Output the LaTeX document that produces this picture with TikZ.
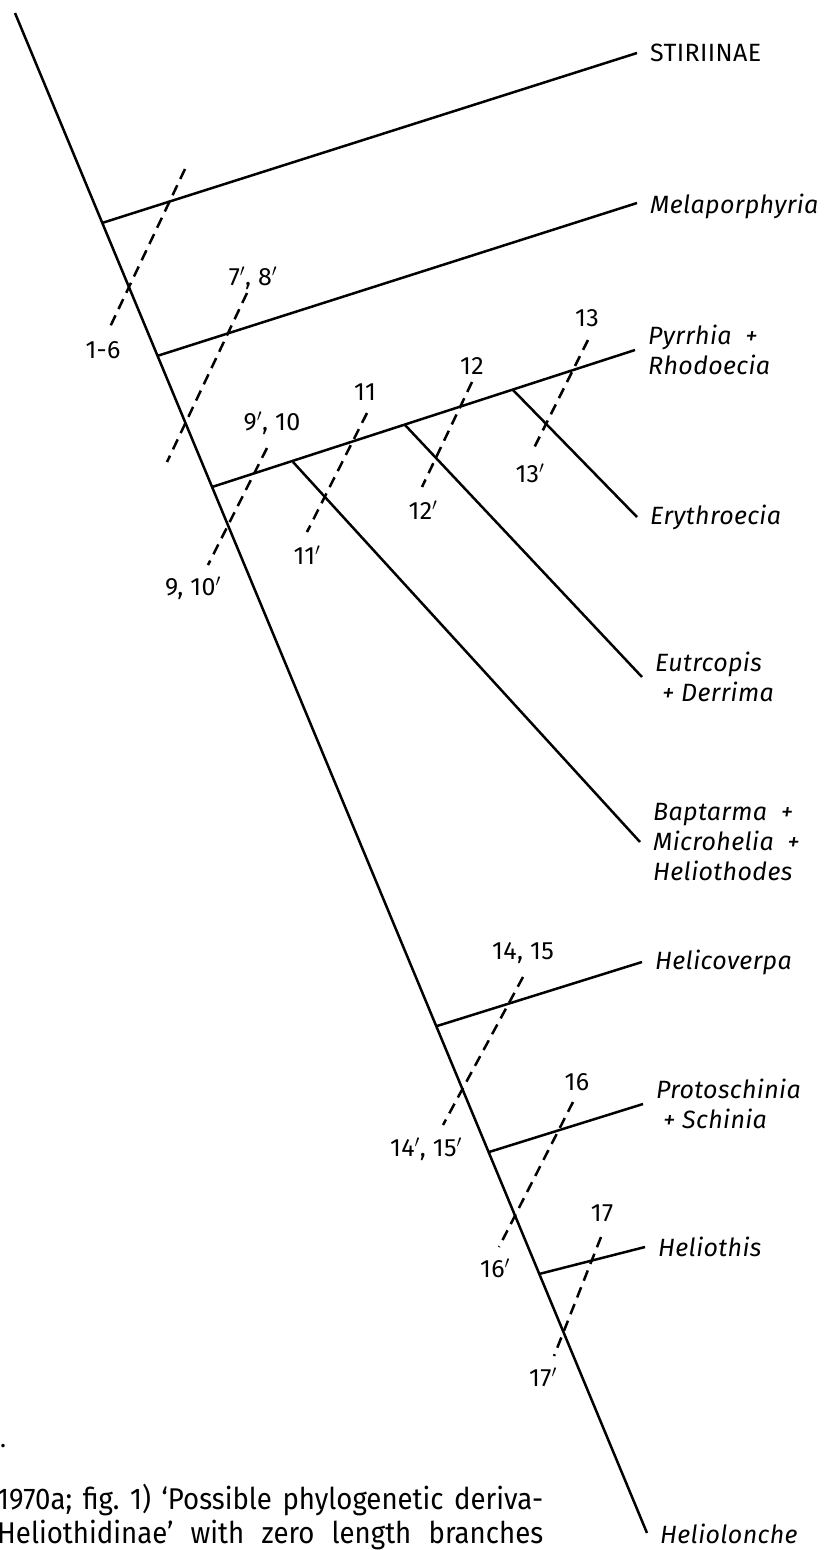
\documentclass[tikz,border=0pt]{standalone}
\usepackage{fontspec}
\setmainfont{Fira Sans}[LetterSpace=1.5]
\newfontfamily\capfont[FakeStretch=0.92]{Fira Sans}
\usetikzlibrary{positioning}

\begin{document}
\frenchspacing
\begin{tikzpicture}[x=1pt,y=-1pt,node distance=13pt,
  branch/.style={line width=2.5pt},
  trait/.style={line width=2.5pt,dash pattern=on 11pt off 7pt},
  taxon/.style={font=\fontsize{25}{30}\selectfont\itshape,inner sep=0pt,align=left},
  num/.style={font=\fontsize{25}{28}\selectfont,inner sep=0pt}]
  \useasboundingbox (0,0) rectangle (827,1550);
  % trunk
  \coordinate (root) at (15,13);
  \coordinate (base) at (647,1533);
  \coordinate (j1) at (102,223);
  \coordinate (j2) at (157,356);
  \coordinate (j3) at (212,487);
  \coordinate (j4) at (437,1026);
  \coordinate (j5) at (489,1152);
  \coordinate (j6) at (539,1274);
  \coordinate (k1) at (293,462);
  \coordinate (k2) at (405,425);
  \coordinate (k3) at (513,390);
  % tips
  \coordinate (t1) at (637,53);
  \coordinate (t2) at (637,203);
  \coordinate (t3) at (635,350);
  \coordinate (t4) at (637,517);
  \coordinate (t5) at (642,677);
  \coordinate (t6) at (640,842);
  \coordinate (t7) at (642,962);
  \coordinate (t8) at (643,1104);
  \coordinate (t9) at (645,1247);
  \draw[branch] (root) -- (base);
  \draw[branch] (j1) -- (t1);
  \draw[branch] (j2) -- (t2);
  \draw[branch] (j3) -- (t3);
  \draw[branch] (k3) -- (t4);
  \draw[branch] (k2) -- (t5);
  \draw[branch] (k1) -- (t6);
  \draw[branch] (j4) -- (t7);
  \draw[branch] (j5) -- (t8);
  \draw[branch] (j6) -- (t9);
  \node[taxon,right=of t1] (stir) {\upshape STIRIINAE};
  \node[taxon,right=of t2,yshift=-3pt] (mela) {Melaporphyria};
  \node[taxon,right=of t3] (pyrr) {Pyrrhia\ \ +\\Rhodoecia};
  \node[taxon,right=of t4] (eryt) {Erythroecia};
  \node[taxon,right=of t5] (eutr) {Eutrcopis\\\ + Derrima};
  \node[taxon,right=of t6] (bapt) {Baptarma\ \ +\\Microhelia\ \ +\\Heliothodes};
  \node[taxon,right=of t7] (helc) {Helicoverpa};
  \node[taxon,right=of t8] (prot) {Protoschinia\\\ + Schinia};
  \node[taxon,right=of t9] (helt) {Heliothis};
  \node[taxon,right=of base,yshift=-1pt] (hell) {Heliolonche};
  % characters
  \coordinate (c1a) at (185,169);  \coordinate (c1b) at (110,327);
  \coordinate (c2a) at (247,293);  \coordinate (c2b) at (167,462);
  \coordinate (c3a) at (267,448);  \coordinate (c3b) at (208,565);
  \coordinate (c4a) at (367,413);  \coordinate (c4b) at (307,532);
  \coordinate (c5a) at (472,382);  \coordinate (c5b) at (422,487);
  \coordinate (c6a) at (588,340);  \coordinate (c6b) at (532,452);
  \coordinate (c7a) at (523,977);  \coordinate (c7b) at (443,1125);
  \coordinate (c8a) at (573,1102); \coordinate (c8b) at (499,1247);
  \coordinate (c9a) at (601,1237); \coordinate (c9b) at (554,1356);
  \foreach \i in {1,...,9}
    \draw[trait] (c\i a) -- (c\i b);
  \node[num] (n1b) at (103,350) {1-6};
  \node[num] (n2a) at (253,278) {7$'$, 8$'$};
  \node[num] (n3a) at (272,423) {9$'$, 10};
  \node[num] (n3b) at (193,588) {9, 10$'$};
  \node[num] (n4a) at (365,392) {11};
  \node[num] (n4b) at (307,555) {11$'$};
  \node[num] (n5a) at (472,366) {12};
  \node[num] (n5b) at (423,510) {12$'$};
  \node[num] (n6a) at (587,318) {13};
  \node[num] (n6b) at (530,473) {13$'$};
  \node[num] (n7a) at (523,953) {14, 15};
  \node[num] (n7b) at (426,1149) {14$'$, 15$'$};
  \node[num] (n8a) at (577,1082) {16};
  \node[num] (n8b) at (495,1268) {16$'$};
  \node[num] (n9a) at (602,1213) {17};
  \node[num] (n9b) at (543,1377) {17$'$};
  % caption remains
  \node[num,anchor=west] (dot) at (0,1446) {.};
  \node[anchor=west,inner sep=0pt,font=\capfont\fontsize{30}{35}\selectfont] (cap1) at (-3,1500)
    {\makebox[546pt][s]{1970a; fig. 1) ‘Possible phylogenetic deriva-}};
  \node[anchor=west,inner sep=0pt,font=\capfont\fontsize{30}{35}\selectfont] (cap2) at (-3,1535)
    {\makebox[546pt][s]{Heliothidinae’ with zero length branches}};
\end{tikzpicture}
\end{document}
